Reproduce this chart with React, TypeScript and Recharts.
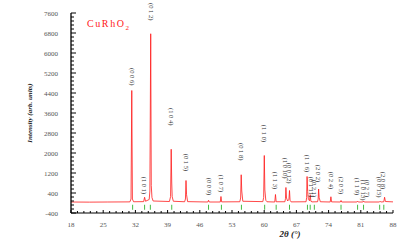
import { LineChart, Line, XAxis, YAxis, ReferenceLine, ReferenceDot, Legend } from "recharts";

// measured pattern: [2theta, intensity]
const pattern: [number, number][] = [
  [18.0, 40], [22.0, 35], [26.0, 40], [30.8, 45],
  [31.05, 160], [31.21, 4500], [31.35, 160], [31.6, 50],
  [33.8, 55], [34.0, 230], [34.2, 70],
  [35.0, 140], [35.15, 480], [35.33, 6770], [35.45, 700], [35.6, 220], [35.85, 80],
  [39.4, 60], [39.65, 260], [39.78, 2150], [39.9, 800], [40.0, 250], [40.25, 70],
  [42.7, 50], [42.88, 160], [43.0, 900], [43.12, 330], [43.35, 55],
  [47.75, 40], [47.9, 110], [48.05, 40],
  [50.45, 40], [50.6, 260], [50.75, 45],
  [54.7, 50], [54.88, 200], [55.0, 1130], [55.12, 480], [55.35, 70],
  [59.7, 55], [59.88, 220], [60.02, 1900], [60.14, 520], [60.35, 110], [60.6, 50],
  [62.3, 40], [62.45, 340], [62.6, 50],
  [64.5, 50], [64.62, 170], [64.72, 620], [64.85, 200], [65.1, 80], [65.38, 150], [65.5, 500], [65.62, 110], [65.85, 45],
  [69.1, 50], [69.22, 220], [69.32, 1060], [69.45, 460], [69.6, 140], [69.85, 90], [70.0, 330], [70.15, 70], [70.4, 45],
  [71.6, 50], [71.73, 160], [71.83, 560], [71.95, 210], [72.2, 50],
  [74.35, 40], [74.5, 250], [74.65, 45],
  [76.55, 40], [76.7, 100], [76.85, 40],
  [80.15, 40], [80.3, 75], [80.45, 40],
  [81.45, 40], [81.6, 80], [81.75, 40],
  [85.05, 40], [85.2, 70], [85.35, 40],
  [86.0, 50], [86.17, 230], [86.35, 60],
  [88.0, 45],
];

// Bragg reflection markers (2theta)
const braggPositions = [
  31.4, 34.0, 35.25, 39.9, 47.9, 50.7, 55.05, 60.1, 62.6, 65.5,
  69.4, 70.0, 70.9, 76.7, 80.3, 81.6, 85.1, 86.0,
];

// hkl labels: angle, intensity at top of the label
const labelHkl = [
  "(0 0 6)", "(1 0 1)", "(0 1 2)", "(1 0 4)", "(0 1 5)", "(0 0 9)", "(1 0 7)", "(0 1 8)",
  "(1 1 0)", "(1 1 3)", "(1 0 10)", "(0 0 12)", "(1 1 6)", "(0 1 11)", "(0 2 1)", "(2 0 2)",
  "(0 2 4)", "(2 0 5)", "(1 1 9)", "(1 0 13)", "(0 2 7)", "(0 0 15)", "(2 0 8)",
];
const labelAngle = [
  31.2, 33.9, 35.3, 39.8, 43.0, 47.9, 50.6, 55.0,
  60.0, 62.4, 64.6, 65.4, 69.2, 70.1, 70.9, 71.8,
  74.5, 76.6, 80.2, 81.5, 82.3, 85.0, 85.9,
];
const labelTop = [
  5400, 1050, 8000, 3800, 1970, 1010, 1130, 2400,
  3130, 1250, 1810, 1610, 1930, 1050, 930, 1530,
  1250, 1050, 1010, 930, 930, 1050, 1250,
];

const xMajorTicks = [18, 25, 32, 39, 46, 53, 60, 67, 74, 81, 88];
const yMajorTicks = [-400, 400, 1200, 2000, 2800, 3600, 4400, 5200, 6000, 6800, 7600];

const steps = (from: number, to: number, step: number) => {
  const out: number[] = [];
  for (let v = from; v <= to + 1e-6; v += step) out.push(Math.round(v * 1000) / 1000);
  return out;
};
const xTicks = steps(18, 88, 1.4);
const yTicks = steps(-400, 7600, 160);

const isMajorX = (v: number) => xMajorTicks.some((m) => Math.abs(m - v) < 1e-3);
const isMajorY = (v: number) => yMajorTicks.some((m) => Math.abs(m - v) < 1e-3);

const data = pattern.map(([angle, intensity]) => ({ angle, intensity }));

const tickFont = { fontFamily: "Liberation Serif, serif", fontSize: 7, fill: "#555" };

function BottomTick(props: any) {
  const { x, y, payload } = props;
  const major = isMajorX(payload.value);
  return (
    <g>
      <line x1={x} x2={x} y1={y} y2={y - (major ? 3 : 2)} stroke="#000" />
      {major && (
        <text x={x} y={y + 14} textAnchor="middle" {...tickFont}>
          {payload.value}
        </text>
      )}
    </g>
  );
}

function TopTick(props: any) {
  const { x, y, payload } = props;
  const major = isMajorX(payload.value);
  return <line x1={x} x2={x} y1={y} y2={y + (major ? 3.5 : 2.5)} stroke="#000" strokeWidth={major ? 1.2 : 1} />;
}

function LeftTick(props: any) {
  const { x, y, payload } = props;
  const major = isMajorY(payload.value);
  return (
    <g>
      <line x1={x} x2={x + (major ? 5 : 3)} y1={y} y2={y} stroke="#000" />
      {major && (
        <text x={x - 13} y={y + 2.5} textAnchor="end" {...tickFont}>
          {payload.value}
        </text>
      )}
    </g>
  );
}

function RightTick(props: any) {
  const { x, y, payload } = props;
  const major = isMajorY(payload.value);
  return <line x1={x} x2={x - (major ? 4 : 3)} y1={y} y2={y} stroke="#444" />;
}

function HklLabel(props: any) {
  const { cx, cy, hkl } = props;
  return (
    <text
      x={cx - 2}
      y={cy}
      transform={`rotate(90, ${cx - 2}, ${cy})`}
      fontFamily="Liberation Serif, serif"
      fontSize={6.5}
      fill="#333"
    >
      {hkl}
    </text>
  );
}

function SampleName() {
  return (
    <div style={{ fontFamily: "Liberation Serif, serif", fontSize: 10, color: "#ff2020", letterSpacing: 1.6 }}>
      CuRhO<sub style={{ fontSize: 7 }}>2</sub>
    </div>
  );
}

export default function App() {
  return (
    <div style={{ position: "absolute", left: 0, top: 0, background: "#fff" }}>
      <LineChart width={415} height={247} data={data} margin={{ top: 13, right: 22, bottom: 0, left: 0 }}>
        <XAxis
          dataKey="angle"
          type="number"
          domain={[18, 88]}
          allowDataOverflow
          ticks={xTicks}
          interval={0}
          tickSize={0}
          tickMargin={0}
          tickLine={false}
          tick={<BottomTick />}
          height={34}
          axisLine={{ stroke: "#000" }}
          label={{
            value: "2θ (°)",
            position: "insideBottom",
            offset: 10,
            dx: 58,
            style: { fontFamily: "Liberation Serif, serif", fontSize: 9, fontWeight: "bold", fontStyle: "italic", fill: "#222" },
          }}
        />
        <XAxis
          xAxisId="top"
          orientation="top"
          type="number"
          domain={[18, 88]}
          allowDataOverflow
          ticks={xTicks}
          interval={0}
          tickSize={0}
          tickMargin={0}
          tickLine={false}
          tick={<TopTick />}
          height={0}
          axisLine={{ stroke: "#000" }}
        />
        <YAxis
          type="number"
          domain={[-400, 7600]}
          allowDataOverflow
          ticks={yTicks}
          interval={0}
          tickSize={0}
          tickMargin={0}
          tickLine={false}
          tick={<LeftTick />}
          width={71}
          axisLine={{ stroke: "#000", strokeWidth: 1.3 }}
          label={{
            value: "Intensity (arb. units)",
            angle: -90,
            position: "insideLeft",
            offset: 30,
            style: { textAnchor: "middle", fontFamily: "Liberation Serif, serif", fontSize: 7, fontWeight: "bold", fontStyle: "italic", fill: "#222" },
          }}
        />
        <YAxis
          yAxisId="right"
          orientation="right"
          type="number"
          domain={[-400, 7600]}
          allowDataOverflow
          ticks={yTicks}
          interval={0}
          tickSize={0}
          tickMargin={0}
          tickLine={false}
          tick={<RightTick />}
          width={0}
          axisLine={{ stroke: "#555", strokeWidth: 1.3 }}
        />
        <Legend layout="vertical" align="center" verticalAlign="middle" content={<SampleName />} wrapperStyle={{ left: 87, top: 18, width: 70 }} />
        {braggPositions.map((a) => (
          <ReferenceLine
            key={"b" + a}
            segment={[{ x: a, y: -70 }, { x: a, y: -270 }]}
            stroke="#44bb44"
            ifOverflow="visible"
          />
        ))}
        <Line
          dataKey="intensity"
          type="linear"
          stroke="#ff1a1a"
          strokeWidth={0.8}
          dot={false}
          isAnimationActive={false}
        />
        {labelHkl.map((hkl, i) => (
          <ReferenceDot
            key={hkl}
            x={labelAngle[i]}
            y={labelTop[i]}
            r={0}
            ifOverflow="visible"
            shape={(p: any) => <HklLabel {...p} hkl={hkl} />}
          />
        ))}
      </LineChart>
    </div>
  );
}
